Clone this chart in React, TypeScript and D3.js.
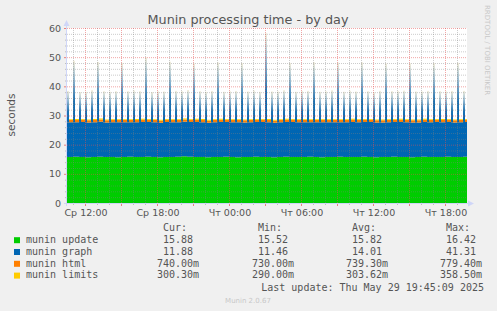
import React, { useRef, useEffect } from 'react';
import * as d3 from 'd3';

// 30-minute samples starting Wed 10:30, peaks at :05 / :35 of each half hour
const sampleStart = new Date(2025, 4, 28, 10, 30);
const peakStart = new Date(2025, 4, 28, 10, 35);
const viewStart = new Date(2025, 4, 28, 10, 30);
const viewEnd = new Date(2025, 4, 29, 19, 50);

const updateValues = [
  15.8, 15.9, 15.8, 15.7, 15.8, 15.9, 15.8, 15.8, 15.7, 15.8,
  15.9, 15.8, 15.8, 15.9, 15.8, 15.7, 15.8, 15.8, 15.9, 16.0,
  15.9, 15.8, 15.8, 15.7, 15.8, 15.8, 15.9, 15.8, 15.7, 15.8,
  15.8, 15.9, 15.8, 15.8, 15.7, 15.8, 15.9, 15.8, 15.8, 15.8,
  15.9, 15.8, 15.7, 15.8, 15.8, 15.9, 15.8, 15.8, 15.8, 15.9,
  15.8, 15.7, 15.8, 15.8, 15.9, 15.8, 15.8, 15.7, 15.8, 15.9,
  15.8, 15.8, 15.8, 15.9, 15.8, 15.8, 15.9,
];
const graphValues = [
  11.9, 11.8, 12.0, 11.9, 11.9, 12.0, 11.8, 11.9, 12.0, 11.9,
  11.8, 11.9, 12.0, 11.9, 11.9, 11.8, 12.0, 11.9, 11.8, 11.9,
  11.9, 12.0, 11.9, 11.8, 11.9, 12.0, 11.9, 11.9, 12.0, 11.8,
  11.9, 11.9, 12.0, 11.9, 11.8, 11.9, 11.9, 12.0, 11.9, 11.9,
  11.8, 11.9, 12.0, 11.9, 11.9, 11.8, 11.9, 12.0, 11.9, 11.9,
  12.0, 11.9, 11.8, 11.9, 11.9, 12.0, 11.9, 11.9, 11.8, 11.9,
  11.9, 12.0, 11.9, 11.9, 11.8, 11.9, 11.9,
];
const htmlValues = [
  0.74, 0.75, 0.74, 0.74, 0.76, 0.74, 0.74, 0.75, 0.74, 0.74,
  0.74, 0.76, 0.74, 0.74, 0.75, 0.74, 0.74, 0.74, 0.75, 0.74,
  0.74, 0.74, 0.76, 0.74, 0.74, 0.75, 0.74, 0.74, 0.74, 0.75,
  0.74, 0.74, 0.74, 0.75, 0.74, 0.74, 0.76, 0.74, 0.74, 0.74,
  0.75, 0.74, 0.74, 0.74, 0.75, 0.74, 0.74, 0.76, 0.74, 0.74,
  0.74, 0.75, 0.74, 0.74, 0.74, 0.75, 0.74, 0.74, 0.74, 0.76,
  0.74, 0.74, 0.75, 0.74, 0.74, 0.74, 0.74,
];
const limitsValues = [
  0.30, 0.31, 0.30, 0.30, 0.32, 0.30, 0.29, 0.30, 0.31, 0.30,
  0.30, 0.30, 0.31, 0.30, 0.30, 0.29, 0.30, 0.31, 0.30, 0.30,
  0.30, 0.31, 0.30, 0.30, 0.30, 0.32, 0.30, 0.30, 0.29, 0.30,
  0.31, 0.30, 0.30, 0.36, 0.30, 0.30, 0.31, 0.30, 0.30, 0.30,
  0.30, 0.31, 0.30, 0.29, 0.30, 0.30, 0.31, 0.30, 0.30, 0.30,
  0.30, 0.30, 0.31, 0.30, 0.30, 0.30, 0.29, 0.30, 0.31, 0.30,
  0.30, 0.30, 0.31, 0.30, 0.30, 0.30, 0.30,
];
// munin graph value at each half-hourly peak
const graphPeaks = [
  21.6, 31.8, 21.2, 21.4, 21.8, 31.4, 21.5, 21.3, 21.6, 31.2,
  21.4, 21.7, 21.5, 33.0, 21.2, 21.6, 21.4, 31.6, 21.5, 21.3,
  21.8, 31.0, 21.5, 21.4, 21.6, 31.3, 21.2, 21.5, 21.7, 31.1,
  21.4, 21.6, 21.3, 41.31, 21.5, 21.4, 21.7, 31.2, 21.3, 21.6,
  21.5, 31.4, 21.4, 21.5, 21.8, 31.2, 21.3, 21.6, 21.4, 31.3,
  21.5, 21.2, 21.6, 31.0, 21.4, 21.5, 21.7, 31.2, 21.4, 21.3,
  21.6, 31.1, 21.5, 21.4, 21.6, 31.2, 21.5,
];

const yTicks = [0, 10, 20, 30, 40, 50, 60];
const xTickLabels = ['Ср 12:00', 'Ср 18:00', 'Чт 00:00', 'Чт 06:00', 'Чт 12:00', 'Чт 18:00'];

const legendNames = ['munin update', 'munin graph', 'munin html', 'munin limits'];
const legendColors = ['#00CC00', '#0066B3', '#FF8000', '#FFCC00'];
const curValues = [15.88, 11.88, 0.74, 0.3003];
const minValues = [15.52, 11.46, 0.73, 0.29];
const avgValues = [15.82, 14.01, 0.7393, 0.30362];
const maxValues = [16.42, 41.31, 0.7794, 0.3585];

const fmt = (v: number) =>
  v < 1 ? (v * 1000).toFixed(2).padStart(6) + 'm' : v.toFixed(2).padStart(6) + ' ';

const App: React.FC = () => {
  const svgRef = useRef<SVGSVGElement | null>(null);

  useEffect(() => {
    const width = 497;
    const height = 311;
    const left = 67, right = 467, top = 28, bottom = 203;
    const textColor = '#555';

    const svg = d3.select(svgRef.current).attr('width', width).attr('height', height);
    svg.selectAll('*').remove();

    svg.append('rect').attr('width', width).attr('height', height).attr('fill', '#F0F0F0');
    svg.append('rect').attr('x', left).attr('y', top).attr('width', right - left).attr('height', bottom - top).attr('fill', '#fff');

    const x = d3.scaleTime().domain([viewStart, viewEnd]).range([left, right]);
    const y = d3.scaleLinear().domain([0, 60]).range([bottom, top]);

    const defs = svg.append('defs');
    const grad = defs.append('linearGradient').attr('id', 'peakFade')
      .attr('x1', 0).attr('y1', 1).attr('x2', 0).attr('y2', 0);
    grad.append('stop').attr('offset', 0).attr('stop-color', '#0066B3');
    grad.append('stop').attr('offset', 0.35).attr('stop-color', '#1e72b2');
    grad.append('stop').attr('offset', 0.72).attr('stop-color', '#9dbfd4');
    grad.append('stop').attr('offset', 1).attr('stop-color', '#f3eedb');
    defs.append('clipPath').attr('id', 'plotClip').append('rect')
      .attr('x', left).attr('y', 0).attr('width', right - left).attr('height', bottom);

    const rows = updateValues.map((u, i) => ({
      t: d3.timeMinute.offset(sampleStart, i * 30),
      update: u,
      graph: graphValues[i],
      html: htmlValues[i],
      limits: limitsValues[i],
    }));
    rows.push({ ...rows[rows.length - 1], t: viewEnd });

    const keys = ['update', 'graph', 'html', 'limits'];
    const series = d3.stack<any>().keys(keys)(rows);

    const area = d3.area<any>()
      .curve(d3.curveStepAfter)
      .x(d => x(d.data.t))
      .y0(d => y(d[0]))
      .y1(d => y(d[1]));

    const plot = svg.append('g').attr('clip-path', 'url(#plotClip)');
    plot.selectAll('path.layer').data(series).enter().append('path')
      .attr('class', 'layer')
      .attr('d', d => area(d)!)
      .attr('fill', (d, i) => legendColors[i]);

    // half-hourly peaks of munin graph, stacked on top of munin update
    const peaks = graphPeaks.map((g, i) => {
      const t = d3.timeMinute.offset(peakStart, i * 30);
      const base = updateValues[i] + graphValues[i];
      return { t, base, top: updateValues[i] + g + htmlValues[i] + limitsValues[i] };
    });
    plot.selectAll('rect.peak').data(peaks).enter().append('rect')
      .attr('class', 'peak')
      .attr('x', d => Math.round(x(d.t)) - 1)
      .attr('width', d => Math.round(x(d3.timeMinute.offset(d.t, 10)) - x(d.t)))
      .attr('y', d => y(d.top))
      .attr('height', d => y(d.base) - y(d.top))
      .attr('fill', 'url(#peakFade)');

    // grid
    const grid = svg.append('g');
    const minorY = d3.range(2, 60, 2).filter(v => v % 10 !== 0);
    grid.selectAll('line.my').data(minorY).enter().append('line')
      .attr('x1', left).attr('x2', right).attr('y1', d => y(d) + 0.5).attr('y2', d => y(d) + 0.5)
      .attr('stroke', 'rgba(128,128,128,0.4)').attr('stroke-dasharray', '1,1');
    const hours = d3.timeHour.range(viewStart, viewEnd);
    grid.selectAll('line.mx').data(hours.filter(h => h.getHours() % 3 !== 0)).enter().append('line')
      .attr('x1', d => Math.round(x(d)) + 0.5).attr('x2', d => Math.round(x(d)) + 0.5)
      .attr('y1', top).attr('y2', bottom)
      .attr('stroke', 'rgba(128,128,128,0.4)').attr('stroke-dasharray', '1,1');
    grid.selectAll('line.My').data(yTicks).enter().append('line')
      .attr('x1', left).attr('x2', right).attr('y1', d => y(d) + 0.5).attr('y2', d => y(d) + 0.5)
      .attr('stroke', 'rgba(230,80,80,0.5)').attr('stroke-dasharray', '1,1');
    const majorHours = hours.filter(h => h.getHours() % 3 === 0);
    grid.selectAll('line.Mx').data(majorHours).enter().append('line')
      .attr('x1', d => Math.round(x(d)) + 0.5).attr('x2', d => Math.round(x(d)) + 0.5)
      .attr('y1', top).attr('y2', bottom)
      .attr('stroke', 'rgba(230,80,80,0.5)').attr('stroke-dasharray', '1,1');

    // tick marks
    grid.selectAll('line.ty').data(d3.range(0, 61, 2)).enter().append('line')
      .attr('x1', d => (d % 10 === 0 ? left - 3 : left - 2)).attr('x2', left)
      .attr('y1', d => y(d) + 0.5).attr('y2', d => y(d) + 0.5)
      .attr('stroke', d => (d % 10 === 0 ? 'rgba(230,80,80,0.7)' : 'rgba(128,128,128,0.45)'));
    grid.selectAll('line.tx').data(hours).enter().append('line')
      .attr('x1', d => Math.round(x(d)) + 0.5).attr('x2', d => Math.round(x(d)) + 0.5)
      .attr('y1', bottom).attr('y2', d => (d.getHours() % 3 === 0 ? bottom + 3 : bottom + 2))
      .attr('stroke', d => (d.getHours() % 3 === 0 ? 'rgba(230,80,80,0.7)' : 'rgba(128,128,128,0.45)'));

    // axes
    const axisColor = '#CFD6F8';
    svg.append('line').attr('x1', left - 0.5).attr('x2', left - 0.5).attr('y1', bottom + 3).attr('y2', top - 4)
      .attr('stroke', axisColor);
    svg.append('line').attr('x1', left - 3).attr('x2', right + 3).attr('y1', bottom + 0.5).attr('y2', bottom + 0.5)
      .attr('stroke', axisColor);
    svg.append('path').attr('d', `M${left - 3.5},${top - 2} L${left - 0.5},${top - 8} L${left + 2.5},${top - 2} Z`).attr('fill', axisColor);
    svg.append('path').attr('d', `M${right + 1},${bottom - 2.5} L${right + 7},${bottom + 0.5} L${right + 1},${bottom + 3.5} Z`).attr('fill', axisColor);

    // y labels
    svg.selectAll('text.yl').data(yTicks).enter().append('text')
      .attr('x', left - 6).attr('y', d => y(d) + 3.5)
      .attr('text-anchor', 'end').attr('font-family', 'DejaVu Sans').attr('font-size', 9.5)
      .attr('fill', textColor).text(d => d);

    // x labels
    const labelTimes = d3.timeHour.every(6)!.range(viewStart, viewEnd);
    svg.selectAll('text.xl').data(labelTimes).enter().append('text')
      .attr('x', d => x(d) + 1).attr('y', bottom + 13)
      .attr('text-anchor', 'middle').attr('font-family', 'DejaVu Sans').attr('font-size', 9.5)
      .attr('fill', textColor).text((d, i) => xTickLabels[i]);

    // title and side texts
    svg.append('text').attr('x', 248).attr('y', 24).attr('text-anchor', 'middle')
      .attr('font-family', 'DejaVu Sans').attr('font-size', 12.8).attr('fill', textColor)
      .text('Munin processing time - by day');
    svg.append('text').attr('transform', 'translate(15,115) rotate(-90)').attr('text-anchor', 'middle')
      .attr('font-family', 'DejaVu Sans').attr('font-size', 10.5).attr('fill', textColor).text('seconds');
    svg.append('text').attr('transform', 'translate(484.5,5) rotate(90)')
      .attr('font-family', 'DejaVu Sans').attr('font-size', 7).attr('fill', '#c8c8c8')
      .text('RRDTOOL / TOBI OETIKER');

    // legend
    const mono = 'DejaVu Sans Mono';
    const cols = [157, 252, 346, 440];
    const headers = ['Cur:', 'Min:', 'Avg:', 'Max:'];
    headers.forEach((h, i) => {
      svg.append('text').attr('x', cols[i] + 6).attr('y', 231).attr('font-family', mono)
        .attr('font-size', 10).attr('fill', textColor).text(h);
    });
    legendNames.forEach((name, i) => {
      const by = 243 + i * 11.8;
      svg.append('rect').attr('x', 14).attr('y', by - 5.8).attr('width', 6).attr('height', 6)
        .attr('fill', legendColors[i]);
      svg.append('text').attr('x', 26).attr('y', by).attr('font-family', mono)
        .attr('font-size', 10).attr('fill', textColor).text(name);
      [curValues, minValues, avgValues, maxValues].forEach((vals, c) => {
        svg.append('text').attr('x', cols[c]).attr('y', by).attr('font-family', mono)
          .attr('font-size', 10).attr('fill', textColor).style('white-space', 'pre')
          .text(fmt(vals[i]));
      });
    });
    svg.append('text').attr('x', 484).attr('y', 291).attr('text-anchor', 'end')
      .attr('font-family', mono).attr('font-size', 10).attr('fill', textColor)
      .style('white-space', 'pre').text('Last update: Thu May 29 19:45:09 2025');
    svg.append('text').attr('x', 248).attr('y', 303).attr('text-anchor', 'middle')
      .attr('font-family', 'DejaVu Sans').attr('font-size', 7).attr('fill', '#c8c8c8')
      .text('Munin 2.0.67');
  }, []);

  return (
    <div style={{ position: 'absolute', left: 0, top: 0 }}>
      <svg ref={svgRef} style={{ display: 'block' }}></svg>
    </div>
  );
};

export default App;
